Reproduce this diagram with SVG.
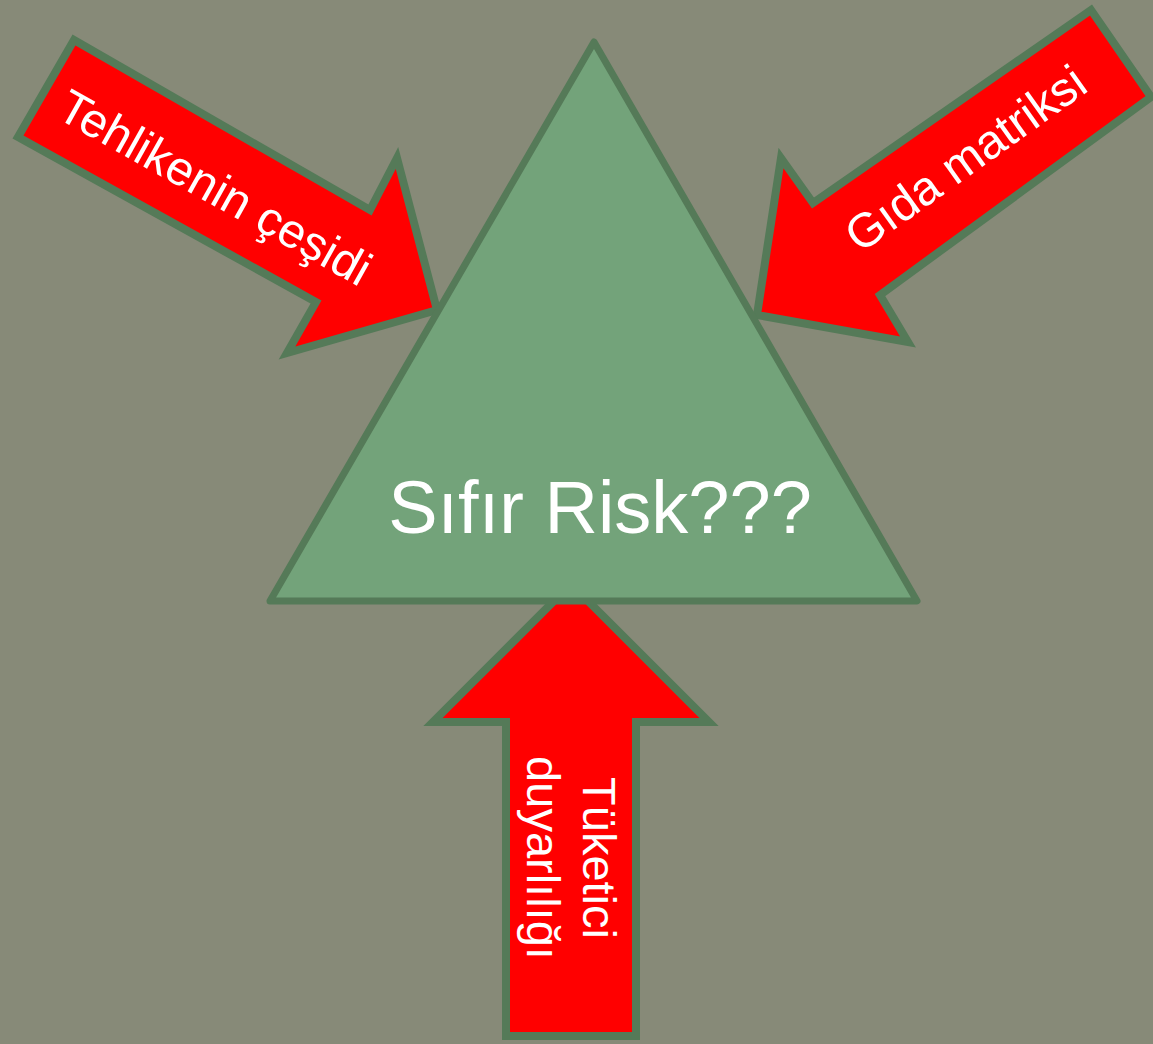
<svg xmlns="http://www.w3.org/2000/svg" width="1153" height="1044" viewBox="0 0 1153 1044">
<style>
.arrow{fill:#ff0000;stroke:#557a58;stroke-width:8;stroke-linejoin:miter}
.tri{fill:#73a37a;stroke:#557a58;stroke-width:7;stroke-linejoin:round}
.lbl{font-family:"Liberation Sans",Arial,sans-serif;fill:#ffffff;font-size:47px;text-anchor:middle}
.main{font-family:"Liberation Sans",Arial,sans-serif;fill:#ffffff;font-size:74px;text-anchor:middle}
</style>
<rect width="1153" height="1044" fill="#878a78"/>
<g id="connectors">
<g id="arrow-left">
<polygon class="arrow" points="74,40 370,210 397,158 437,310 287,353 316,302 18,137"/>
<text class="lbl" transform="translate(207,202) rotate(29.2)" x="0" y="0" style="font-size:48px">Tehlikenin çeşidi</text>
</g>
<g id="arrow-right">
<polygon class="arrow" points="1091,10 1151,97 880,295 908,342 757,315 781,158 813,203"/>
<text class="lbl" transform="translate(975,172) rotate(-35.5)" x="0" y="0" style="font-size:48px">Gıda matriksi</text>
</g>
<g id="arrow-bottom">
<polygon class="arrow" points="571,584 709,722 636,722 636,1036 506,1036 506,722 433,722"/>
<text class="lbl" transform="translate(583,858) rotate(90)"><tspan x="0" y="0">Tüketici</tspan><tspan x="0" y="56">duyarlılığı</tspan></text>
</g>
</g>
<g id="node-risk">
<polygon class="tri" points="594,42 917,601 270,601"/>
<text class="main" x="600" y="533">Sıfır Risk???</text>
</g>
</svg>
